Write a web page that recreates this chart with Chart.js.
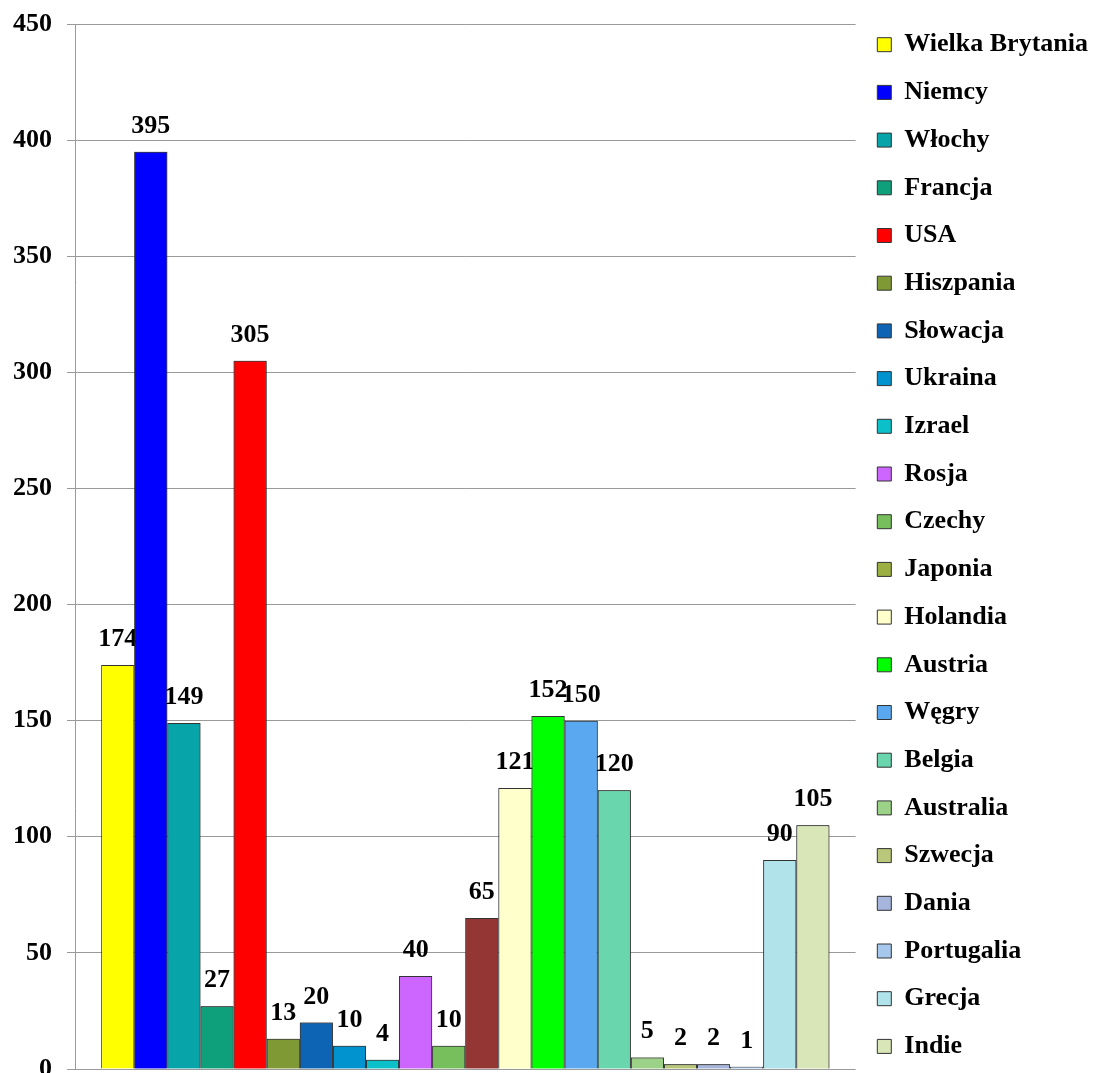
<!DOCTYPE html>
<html>
<head>
<meta charset="utf-8">
<script src="https://cdn.jsdelivr.net/npm/chart.js@4/dist/chart.umd.min.js"></script>
<style>
  html, body { margin: 0; padding: 0; background: #fff; overflow: hidden; }
  #countryChart { display: block; }
</style>
</head>
<body>
<canvas id="countryChart" width="1098" height="1093" style="width:1098px;height:1093px"></canvas>
<script>
const countries = [
  "Wielka Brytania", "Niemcy", "Włochy", "Francja", "USA", "Hiszpania",
  "Słowacja", "Ukraina", "Izrael", "Rosja", "Czechy", "Japonia",
  "Holandia", "Austria", "Węgry", "Belgia", "Australia", "Szwecja",
  "Dania", "Portugalia", "Grecja", "Indie"
];
const counts = [174, 395, 149, 27, 305, 13, 20, 10, 4, 40, 10, 65,
  121, 152, 150, 120, 5, 2, 2, 1, 90, 105];
const barColors = [
  "#FFFF00", "#0000FF", "#07A4AA", "#0EA07A", "#FF0000", "#7F9A35",
  "#0E64B4", "#0093CF", "#0CC0CA", "#CC66FF", "#77BE5C", "#943634",
  "#FFFFCC", "#00FF00", "#5AA9F0", "#6AD6AE", "#9BD287", "#B8C77A",
  "#A5B5DB", "#A6C8EC", "#B0E4EA", "#D9E6B8"
];
// legend key for Japonia uses a different swatch than its bar
const legendColors = barColors.slice();
legendColors[11] = "#9BB040";
const yTicks = [0, 50, 100, 150, 200, 250, 300, 350, 400, 450];

const serif = "'Times New Roman', 'Liberation Serif', serif";

// value labels: each label sits above its bar, then the next bar is
// painted again so it overlaps the previous label
const valueLabels = {
  id: "valueLabels",
  afterDatasetsDraw(chart) {
    const ctx = chart.ctx;
    ctx.save();
    ctx.font = "bold 26px " + serif;
    ctx.fillStyle = "#000";
    ctx.textAlign = "center";
    ctx.textBaseline = "alphabetic";
    chart.data.datasets.forEach((ds, i) => {
      const bar = chart.getDatasetMeta(i).data[0];
      ctx.fillText(String(ds.data[0]), bar.x, bar.y - 19);
      const next = chart.getDatasetMeta(i + 1);
      if (next && next.data[0]) next.data[0].draw(ctx);
    });
    ctx.restore();
  }
};

new Chart(document.getElementById("countryChart"), {
  type: "bar",
  data: {
    labels: [""],
    datasets: countries.map((name, i) => ({
      label: name,
      data: [counts[i]],
      backgroundColor: barColors[i],
      borderColor: "#333",
      borderWidth: 1,
      barPercentage: 1,
      categoryPercentage: 0.933
    }))
  },
  options: {
    responsive: false,
    animation: false,
    devicePixelRatio: 1,
    layout: { padding: { top: 10, left: 0, right: 0, bottom: 0 } },
    plugins: {
      tooltip: { enabled: false },
      legend: {
        position: "right",
        align: "start",
        labels: {
          boxWidth: 14,
          boxHeight: 14,
          padding: 21.7,
          color: "#000",
          font: { family: serif, size: 26, weight: "bold" },
          generateLabels(chart) {
            return chart.data.datasets.map((ds, i) => ({
              text: ds.label,
              fillStyle: legendColors[i],
              strokeStyle: "#333",
              lineWidth: 1,
              hidden: !chart.isDatasetVisible(i),
              datasetIndex: i
            }));
          }
        }
      }
    },
    scales: {
      x: { display: false },
      y: {
        min: 0,
        max: 450,
        afterBuildTicks(scale) {
          scale.ticks = yTicks.map(v => ({ value: v }));
        },
        afterFit(scale) {
          scale.width = 75;
          scale.paddingTop = 24;
          scale.paddingBottom = 24;
        },
        grid: { color: "#9a9a9a", lineWidth: 1, tickLength: 8 },
        border: { color: "#9a9a9a", width: 1 },
        ticks: {
          padding: 15,
          color: "#000",
          font: { family: serif, size: 26, weight: "bold" }
        }
      }
    }
  },
  plugins: [valueLabels]
});
</script>
</body>
</html>
